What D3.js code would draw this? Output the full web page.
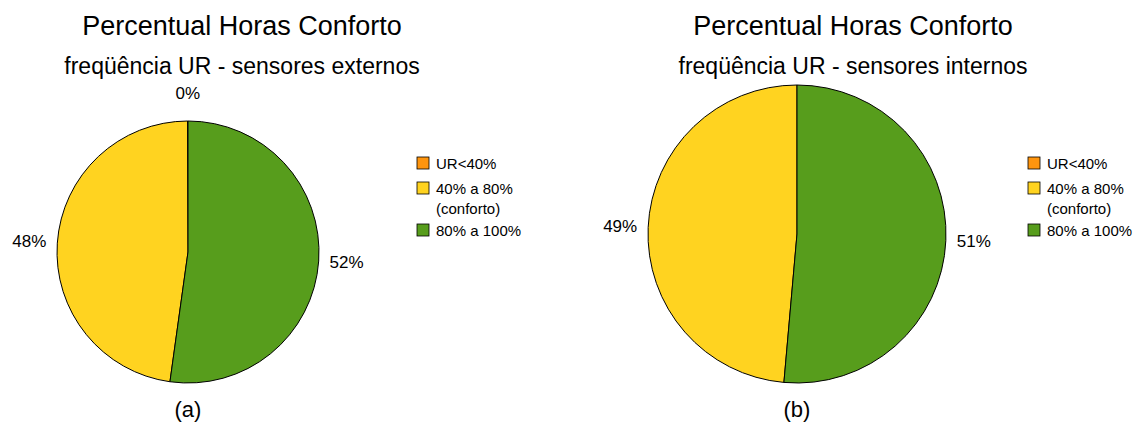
<!DOCTYPE html>
<html>
<head>
<meta charset="utf-8">
<script src="https://cdn.jsdelivr.net/npm/d3@7"></script>
<style>
  body { margin: 0; background: #fff; }
  text { font-family: "Liberation Sans", Arial, sans-serif; fill: #000; }
</style>
</head>
<body>
<div id="chart"></div>
<script>
const categories = ["UR<40%", "40% a 80% (conforto)", "80% a 100%"];
const legendLines = [["UR<40%"], ["40% a 80%", "(conforto)"], ["80% a 100%"]];
const colors = ["#ff950e", "#ffd320", "#579d1c"];

const externosValues = [0.05, 47.75, 52.2];
const externosLabels = ["0%", "48%", "52%"];
const internosValues = [0, 48.6, 51.4];
const internosLabels = ["", "49%", "51%"];

const title = "Percentual Horas Conforto";
const subtitles = ["freqüência UR - sensores externos", "freqüência UR - sensores internos"];
const captions = ["(a)", "(b)"];

const width = 1137, height = 430;

const svg = d3.select("#chart")
  .append("svg")
  .attr("width", width)
  .attr("height", height);

const panels = [
  { values: externosValues, labels: externosLabels, cx: 188, cy: 252, r: 131, titleX: 242, legendX: 417 },
  { values: internosValues, labels: internosLabels, cx: 797, cy: 234, r: 149, titleX: 853, legendX: 1028 }
];

panels.forEach((p, k) => {
  const g = svg.append("g");

  g.append("text")
    .attr("x", p.titleX).attr("y", 35)
    .attr("text-anchor", "middle")
    .style("font-size", "27px")
    .text(title);

  g.append("text")
    .attr("x", p.titleX).attr("y", 74)
    .attr("text-anchor", "middle")
    .style("font-size", "23px")
    .text(subtitles[k]);

  const pie = d3.pie()
    .sort(null)
    .startAngle(0)
    .endAngle(-2 * Math.PI)
    .value(d => d);

  const arcs = pie(p.values);

  const arcGenerator = d3.arc().innerRadius(0).outerRadius(p.r);
  const labelArc = d3.arc().innerRadius(p.r + 28).outerRadius(p.r + 28);

  const pg = g.append("g").attr("transform", `translate(${p.cx},${p.cy})`);

  pg.selectAll("path")
    .data(arcs)
    .enter()
    .append("path")
    .attr("d", arcGenerator)
    .style("fill", (_, i) => colors[i])
    .style("stroke", "#000")
    .style("stroke-width", 1);

  pg.selectAll("text.pct")
    .data(arcs)
    .enter()
    .append("text")
    .attr("class", "pct")
    .attr("text-anchor", "middle")
    .attr("dominant-baseline", "central")
    .style("font-size", "17px")
    .attr("transform", d => {
      const [x, y] = labelArc.centroid(d);
      return `translate(${x},${y})`;
    })
    .text((d, i) => p.labels[i]);

  // legend
  const rowY = [163, 188, 230];
  const lg = g.append("g");
  legendLines.forEach((lines, i) => {
    lg.append("rect")
      .attr("x", p.legendX).attr("y", rowY[i] - 6)
      .attr("width", 12).attr("height", 12)
      .style("fill", colors[i])
      .style("stroke", "#000")
      .style("stroke-width", 0.8);
    lines.forEach((t, j) => {
      lg.append("text")
        .attr("x", p.legendX + 19).attr("y", rowY[i] + 20 * j)
        .attr("dominant-baseline", "central")
        .style("font-size", "15px")
        .text(t);
    });
  });

  g.append("text")
    .attr("x", p.cx).attr("y", 417)
    .attr("text-anchor", "middle")
    .style("font-size", "22px")
    .text(captions[k]);
});
</script>
</body>
</html>
